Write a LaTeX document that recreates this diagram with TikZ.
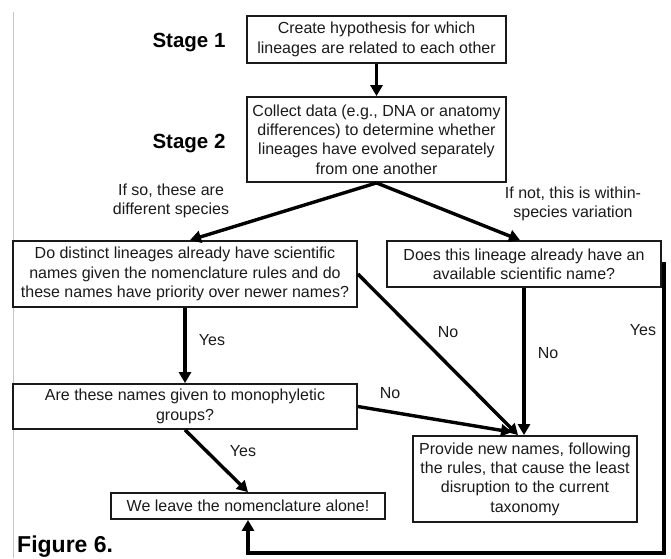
\documentclass[tikz,border=0pt]{standalone}
\usepackage{fontspec}
\setmainfont{Liberation Sans}
\usetikzlibrary{arrows.meta,calc}
\definecolor{txt}{HTML}{1A1A1A}
\tikzset{
  box/.style={draw=txt, line width=1.8pt, inner sep=0pt, align=center, text=txt,
              font=\fontsize{16}{19.3}\selectfont},
  arr/.style={draw=black, line width=3.4pt, -{Triangle[length=11pt,width=12pt]}},
  lbl/.style={text=txt, align=center, inner sep=0pt, font=\fontsize{16}{19.3}\selectfont},
  stage/.style={text=black, inner sep=0pt, font=\bfseries\fontsize{20.5}{24}\selectfont},
}
\begin{document}
\begin{tikzpicture}[x=1pt,y=-1pt]
\useasboundingbox (0,0) rectangle (671,558);
\draw[gray!45, line width=0.9pt] (13,12) -- (13,558);

\node[stage] (s1) at (189,43) {Stage 1};
\node[stage] (s2) at (189,144) {Stage 2};

\node[box, minimum width=259pt, minimum height=47pt] (b1) at (376.5,39.5)
  {Create hypothesis for which\\lineages are related to each other};
\node[box, minimum width=259pt, minimum height=85pt] (b2) at (376.5,139.5)
  {Collect data (e.g., DNA or anatomy\\differences) to determine whether\\lineages have evolved separately\\from one another};
\node[box, minimum width=344pt, minimum height=66pt] (b3) at (185,274)
  {Do distinct lineages already have scientific\\names given the nomenclature rules and do\\these names have priority over newer names?};
\node[box, minimum width=274pt, minimum height=46pt] (b4) at (524,264)
  {Does this lineage already have an\\available scientific name?};
\node[box, minimum width=344pt, minimum height=45pt] (b5) at (185,406.5)
  {Are these names given to monophyletic\\groups?};
\node[box, minimum width=224pt, minimum height=86pt] (b6) at (525,479)
  {Provide new names, following\\the rules, that cause the least\\disruption to the current\\taxonomy};
\node[box, minimum width=274pt, minimum height=26pt] (b7) at (248,506)
  {We leave the nomenclature alone!};

\node[lbl] (l1) at (171,201) {If so, these are\\different species};
\node[lbl] (l2) at (573,204) {If not, this is within-\\species variation};
\node[lbl] (l3) at (212,340) {Yes};
\node[lbl] (l4) at (448,332) {No};
\node[lbl] (l5) at (548,353) {No};
\node[lbl] (l6) at (643,330) {Yes};
\node[lbl] (l7) at (390,393) {No};
\node[lbl] (l8) at (243,451) {Yes};
\node[text=black, inner sep=0pt, anchor=west, font=\bfseries\fontsize{23}{26}\selectfont] (fig) at (17,547) {Figure 6.};

\coordinate (br) at (664,553);
\coordinate (bl) at (248,553);

\draw[arr] (b1.south) -- (b2.north);
\draw[arr] (b2.south) -- ($(b3.north)+(5,0)$);
\draw[arr] (b2.south) -- ($(b4.north)+(-4,0)$);
\draw[arr] (b3.south) -- (b5.north);
\draw[arr] (b3.east) -- ($(b6.north)+(-7,0)$);
\draw[arr] (b4.south) -- ($(b6.north)+(-1,0)$);
\draw[arr] (b5.east) -- ($(b6.north)+(-13,-3)$);
\draw[arr] (b5.south) -- (b7.north);
\draw[arr] (b4.east) -- (b4.east -| br) -- (br) -- (bl) -- (b7.south);
\end{tikzpicture}
\end{document}
